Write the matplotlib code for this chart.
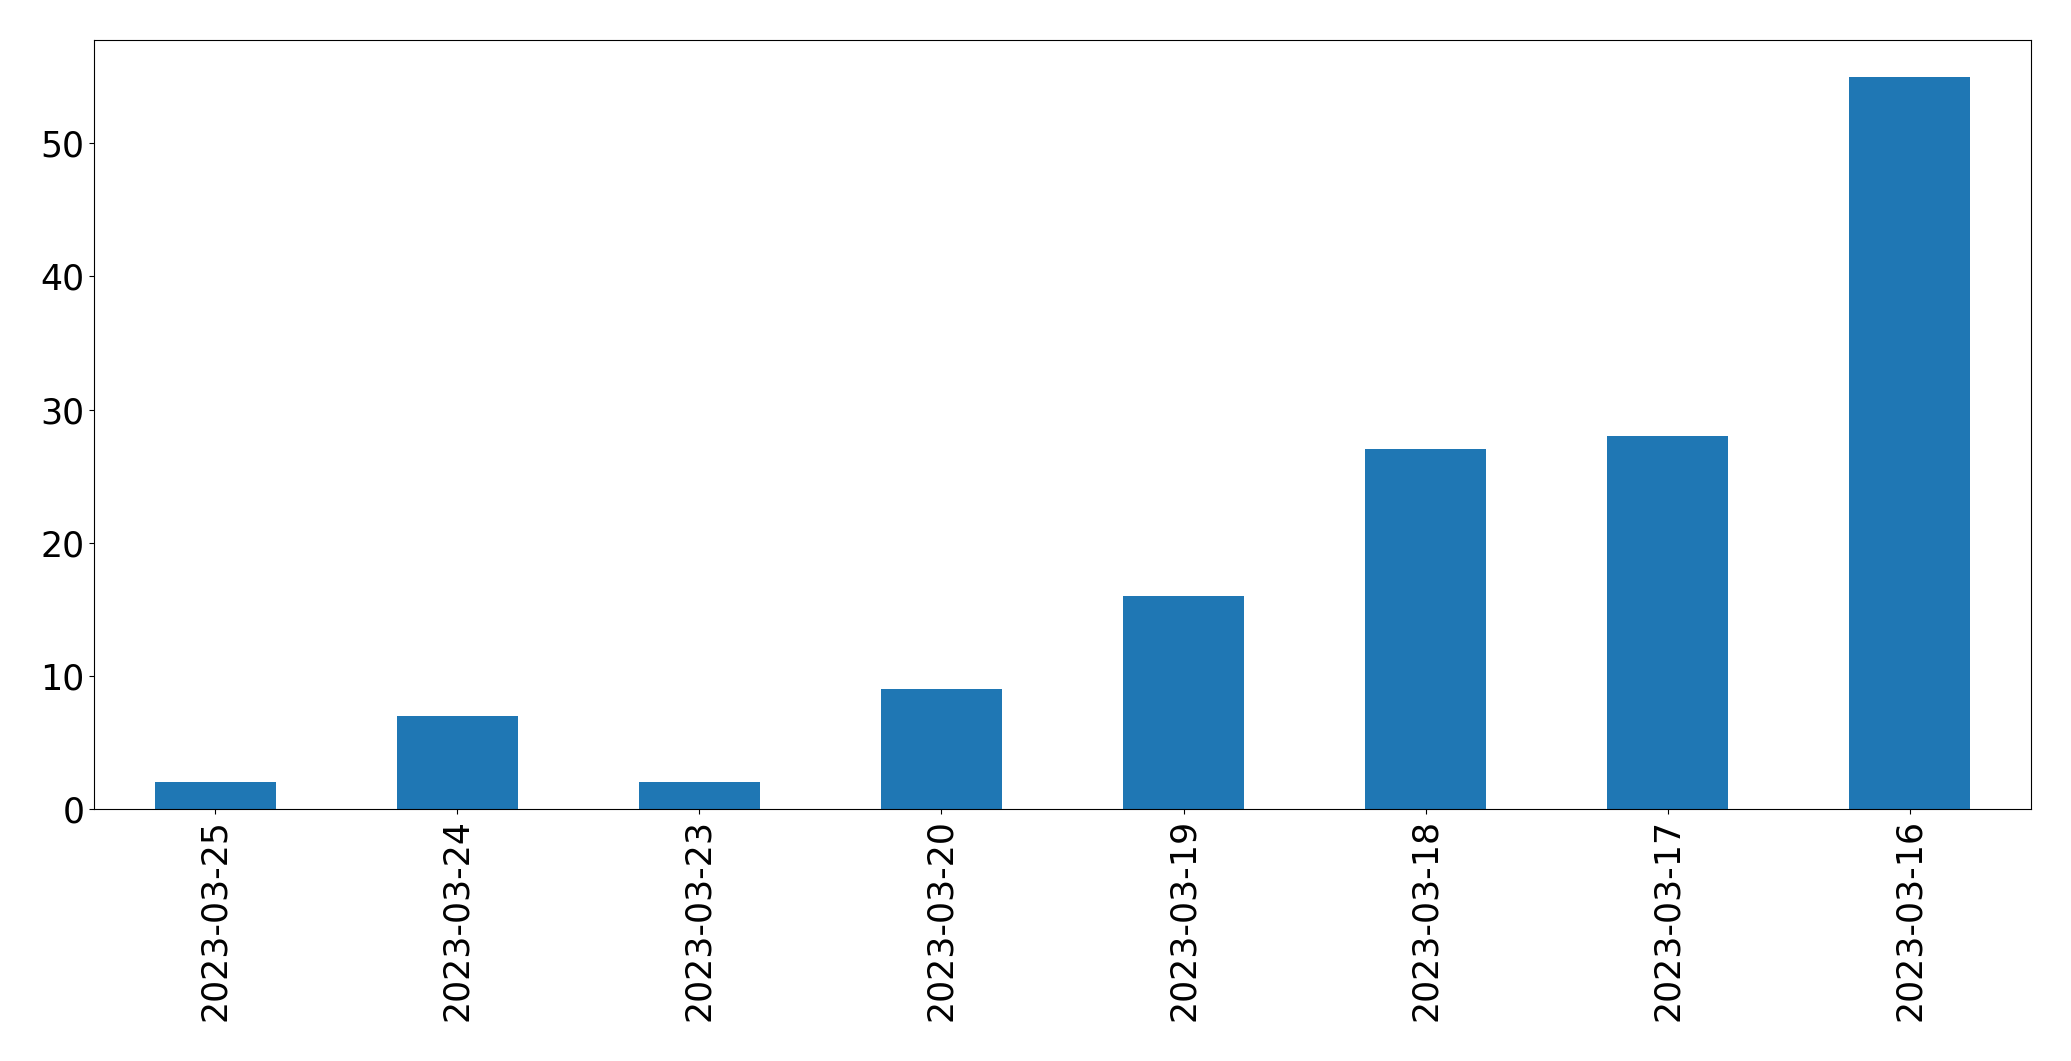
import matplotlib
matplotlib.use('Agg')
import matplotlib.pyplot as plt
import pandas as pd

dates = ['2023-03-25', '2023-03-24', '2023-03-23', '2023-03-20',
         '2023-03-19', '2023-03-18', '2023-03-17', '2023-03-16']
counts = [2, 7, 2, 9, 16, 27, 28, 55]

plt.rcParams.update({
    'xtick.labelsize': 25,
    'ytick.labelsize': 25,
})

fig = plt.figure(figsize=(20.71, 10.61), dpi=100)
ax = fig.add_axes([94 / 2071, 1 - 809 / 1061, (2031 - 94) / 2071, (809 - 40) / 1061])

s = pd.Series(counts, index=dates)
s.plot(kind='bar', ax=ax, color='#1f77b4')

fig.savefig('out.png', dpi=100)
